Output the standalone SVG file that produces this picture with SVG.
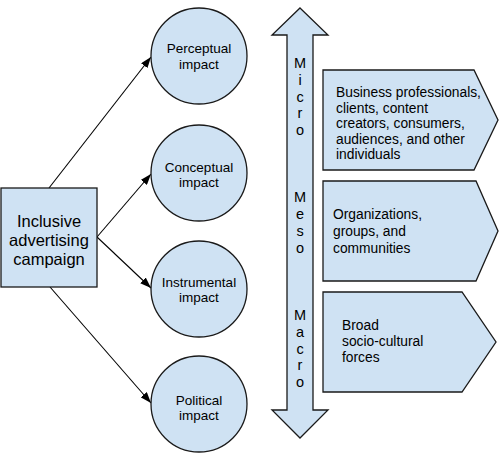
<svg xmlns="http://www.w3.org/2000/svg" width="500" height="457" viewBox="0 0 500 457">
<defs>
<style>
.shape{fill:#cfe2f3;stroke:#1a1a1a;stroke-width:1.3}
.t{font-family:"Liberation Sans",Arial,sans-serif;fill:#000}
.c{font-size:13.5px;text-anchor:middle}
.b{font-size:16.5px;text-anchor:middle}
.p{font-size:13.8px}
.v{font-size:14.5px;text-anchor:middle}
.con{stroke:#000;stroke-width:1.1;fill:none;marker-end:url(#ah)}
</style>
<marker id="ah" markerUnits="userSpaceOnUse" markerWidth="11" markerHeight="8" refX="11" refY="4" orient="auto">
<path d="M0,0 L11,4 L0,8 z" fill="#000"/>
</marker>
</defs>
<rect width="500" height="457" fill="#fff"/>

<g id="connectors">
<line class="con" x1="49" y1="188" x2="151" y2="57"/>
<line class="con" x1="97" y1="237" x2="151" y2="174"/>
<line class="con" x1="97" y1="237" x2="151" y2="288"/>
<line class="con" x1="50" y1="287" x2="151" y2="403"/>
</g>

<g id="campaign">
<rect class="shape" x="1" y="188" width="96" height="99"/>
<text class="t b" x="49" y="227">Inclusive</text>
<text class="t b" x="49" y="246">advertising</text>
<text class="t b" x="49" y="265">campaign</text>
</g>

<g id="perceptual">
<circle class="shape" cx="199" cy="56" r="48"/>
<text class="t c" x="199" y="53">Perceptual</text>
<text class="t c" x="199" y="68.5">impact</text>
</g>
<g id="conceptual">
<circle class="shape" cx="199" cy="173" r="48"/>
<text class="t c" x="199" y="171.5">Conceptual</text>
<text class="t c" x="199" y="187">impact</text>
</g>
<g id="instrumental">
<circle class="shape" cx="199" cy="289" r="48"/>
<text class="t c" x="199" y="286.5">Instrumental</text>
<text class="t c" x="199" y="302">impact</text>
</g>
<g id="political">
<circle class="shape" cx="199" cy="404" r="48"/>
<text class="t c" x="199" y="404.5">Political</text>
<text class="t c" x="199" y="420">impact</text>
</g>

<g id="scale-arrow">
<path class="shape" d="M300,8 L328,35 L313,35 L313,410 L328,410 L300,438 L272,410 L287,410 L287,35 L272,35 Z"/>
<text class="t v" x="300" y="68">M</text>
<text class="t v" x="300" y="85">i</text>
<text class="t v" x="300" y="102">c</text>
<text class="t v" x="300" y="118">r</text>
<text class="t v" x="300" y="135">o</text>
<text class="t v" x="300" y="202">M</text>
<text class="t v" x="300" y="219">e</text>
<text class="t v" x="300" y="236">s</text>
<text class="t v" x="300" y="253">o</text>
<text class="t v" x="300" y="320">M</text>
<text class="t v" x="300" y="337">a</text>
<text class="t v" x="300" y="354">c</text>
<text class="t v" x="300" y="370">r</text>
<text class="t v" x="300" y="387">o</text>
</g>

<g id="micro-box">
<path class="shape" d="M323,70 L474,70 L498,120 L474,170 L323,170 Z"/>
<text class="t p" x="336" y="97">Business professionals,</text>
<text class="t p" x="336" y="112.5">clients, content</text>
<text class="t p" x="336" y="128">creators, consumers,</text>
<text class="t p" x="336" y="143.5">audiences, and other</text>
<text class="t p" x="336" y="159">individuals</text>
</g>
<g id="meso-box">
<path class="shape" d="M323,181 L476,181 L498,231 L476,281 L323,281 Z"/>
<text class="t p" x="333" y="219">Organizations,</text>
<text class="t p" x="333" y="236">groups, and</text>
<text class="t p" x="333" y="253">communities</text>
</g>
<g id="macro-box">
<path class="shape" d="M323,292 L462,292 L496,342 L462,392 L323,392 Z"/>
<text class="t p" x="342" y="330">Broad</text>
<text class="t p" x="342" y="346">socio-cultural</text>
<text class="t p" x="342" y="362">forces</text>
</g>
</svg>
